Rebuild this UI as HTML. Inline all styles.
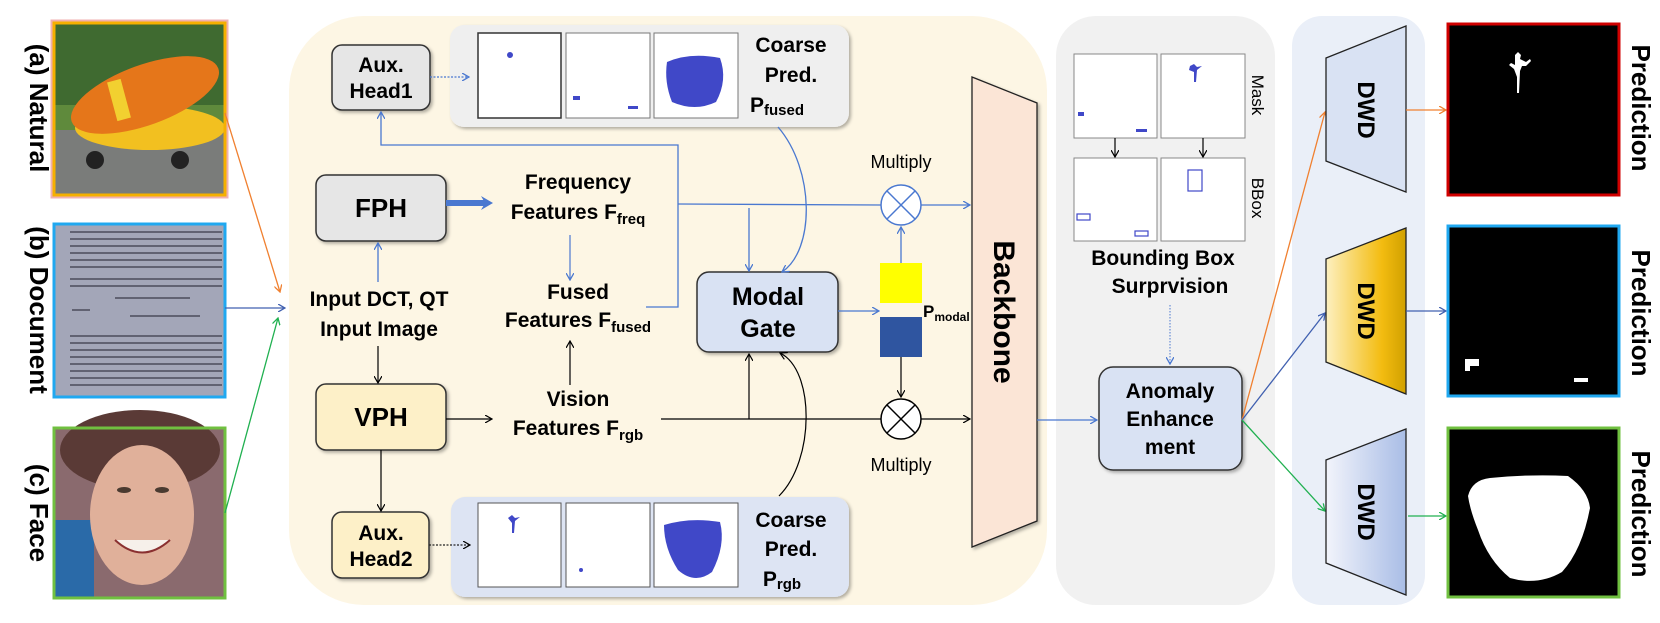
<!DOCTYPE html>
<html><head><meta charset="utf-8"><style>
html,body{margin:0;padding:0;background:#fff}
svg{display:block}
text{font-family:"Liberation Sans",Arial,sans-serif}
.b{font-weight:bold}
</style></head><body>
<svg width="1660" height="623" viewBox="0 0 1660 623" xmlns="http://www.w3.org/2000/svg">
<defs>
<marker id="ab" markerWidth="8" markerHeight="8" refX="7" refY="4" orient="auto" markerUnits="userSpaceOnUse"><path d="M0,0 L7,4 L0,8" fill="none" stroke="#4a78d0" stroke-width="1.3"/></marker>
<marker id="ak" markerWidth="8" markerHeight="8" refX="7" refY="4" orient="auto" markerUnits="userSpaceOnUse"><path d="M0,0 L7,4 L0,8" fill="none" stroke="#000" stroke-width="1.2"/></marker>
<marker id="ao" markerWidth="8" markerHeight="8" refX="7" refY="4" orient="auto" markerUnits="userSpaceOnUse"><path d="M0,0 L7,4 L0,8" fill="none" stroke="#f08030" stroke-width="1.3"/></marker>
<marker id="ag" markerWidth="8" markerHeight="8" refX="7" refY="4" orient="auto" markerUnits="userSpaceOnUse"><path d="M0,0 L7,4 L0,8" fill="none" stroke="#20b050" stroke-width="1.3"/></marker>
<marker id="an" markerWidth="8" markerHeight="8" refX="7" refY="4" orient="auto" markerUnits="userSpaceOnUse"><path d="M0,0 L7,4 L0,8" fill="none" stroke="#4060b0" stroke-width="1.3"/></marker>
<marker id="thick" markerWidth="14" markerHeight="16" refX="4" refY="8" orient="auto" markerUnits="userSpaceOnUse"><path d="M0,1 L12,8 L0,15 L4,8 Z" fill="#4a78d0"/></marker>
<linearGradient id="gy" x1="0" x2="1"><stop offset="0" stop-color="#fdf0c0"/><stop offset="0.7" stop-color="#f3bc10"/><stop offset="1" stop-color="#d0a000"/></linearGradient>
<linearGradient id="gb" x1="0" x2="1"><stop offset="0" stop-color="#f2f4fb"/><stop offset="1" stop-color="#a9bde6"/></linearGradient>
<filter id="sh" x="-10%" y="-10%" width="130%" height="130%"><feDropShadow dx="2" dy="2" stdDeviation="1.5" flood-color="#000" flood-opacity="0.3"/></filter>
</defs>

<!-- panels -->
<rect x="289" y="16" width="758" height="589" rx="75" fill="#fdf6e4"/>
<rect x="1056" y="16" width="219" height="589" rx="40" fill="#f1f1f1"/>
<rect x="1292" y="16" width="133" height="589" rx="30" fill="#eaeff8"/>

<!-- left labels -->
<text class="b" font-size="26" transform="translate(30,108) rotate(90)" text-anchor="middle">(a) Natural</text>
<text class="b" font-size="26" transform="translate(30,310) rotate(90)" text-anchor="middle">(b) Document</text>
<text class="b" font-size="26" transform="translate(30,513) rotate(90)" text-anchor="middle">(c) Face</text>

<!-- image a -->
<g>
<rect x="54" y="23" width="171" height="172" fill="#3f6a30"/>
<rect x="54" y="120" width="171" height="75" fill="#7a7c7a"/>
<rect x="54" y="105" width="171" height="25" fill="#5f8a3c"/>
<ellipse cx="150" cy="128" rx="75" ry="22" fill="#f2c020"/>
<ellipse cx="145" cy="95" rx="78" ry="30" transform="rotate(-20 145 95)" fill="#e5761a"/>
<rect x="112" y="80" width="14" height="40" fill="#f2d030" transform="rotate(-15 119 100)"/>
<circle cx="95" cy="160" r="9" fill="#222"/><circle cx="180" cy="160" r="9" fill="#222"/>
<rect x="54" y="23" width="171" height="172" fill="none" stroke="#f5b000" stroke-width="3"/>
<rect x="51.5" y="20.5" width="176" height="177" fill="none" stroke="#f0b0b0" stroke-width="2"/>
</g>
<!-- image b -->
<g>
<rect x="54" y="224" width="171" height="173" fill="#a3a6b8"/>
<g stroke="#3a3a48" stroke-width="1.3">
<line x1="70" y1="232" x2="222" y2="232"/><line x1="70" y1="239" x2="222" y2="239"/><line x1="70" y1="246" x2="222" y2="246"/><line x1="70" y1="253" x2="222" y2="253"/><line x1="70" y1="260" x2="222" y2="260"/><line x1="70" y1="267" x2="222" y2="267"/>
<line x1="70" y1="279" x2="222" y2="279"/><line x1="70" y1="286" x2="222" y2="286"/>
<line x1="115" y1="298" x2="190" y2="298"/><line x1="72" y1="310" x2="90" y2="310"/><line x1="130" y1="316" x2="200" y2="316"/>
<line x1="70" y1="336" x2="222" y2="336"/><line x1="70" y1="343" x2="222" y2="343"/><line x1="70" y1="350" x2="222" y2="350"/><line x1="70" y1="357" x2="222" y2="357"/><line x1="70" y1="364" x2="222" y2="364"/><line x1="70" y1="371" x2="222" y2="371"/><line x1="70" y1="378" x2="222" y2="378"/><line x1="70" y1="385" x2="222" y2="385"/>
</g>
<rect x="54" y="224" width="171" height="173" fill="none" stroke="#20a8f0" stroke-width="3"/>
</g>
<!-- image c -->
<g>
<rect x="54" y="428" width="171" height="170" fill="#8a6a6e"/>
<rect x="54" y="520" width="40" height="78" fill="#2a6aa8"/>
<ellipse cx="140" cy="450" rx="80" ry="40" fill="#5a3a36"/>
<ellipse cx="142" cy="515" rx="52" ry="70" fill="#e0b09a"/>
<path d="M115,540 Q142,565 170,540" fill="#f6f0ea" stroke="#8a3030" stroke-width="2"/>
<ellipse cx="124" cy="490" rx="7" ry="3" fill="#4a3a30"/><ellipse cx="162" cy="490" rx="7" ry="3" fill="#4a3a30"/>
<rect x="54" y="428" width="171" height="170" fill="none" stroke="#70c040" stroke-width="3"/>
</g>
<!-- input arrows -->
<line x1="225" y1="113" x2="280" y2="292" stroke="#f08030" stroke-width="1.3" marker-end="url(#ao)"/>
<line x1="225" y1="308" x2="285" y2="308" stroke="#4060b0" stroke-width="1.3" marker-end="url(#an)"/>
<line x1="225" y1="513" x2="278" y2="318" stroke="#20b050" stroke-width="1.3" marker-end="url(#ag)"/>

<!-- coarse panels -->
<rect x="450" y="25" width="399" height="102" rx="14" fill="#efefef" filter="url(#sh)"/>
<rect x="478" y="33" width="83" height="85" fill="#fff" stroke="#333" stroke-width="1.5"/>
<rect x="566" y="33" width="84" height="85" fill="#fff" stroke="#777"/>
<rect x="654" y="33" width="84" height="85" fill="#fff" stroke="#777"/>
<circle cx="510" cy="55" r="3" fill="#4048c8"/>
<rect x="573" y="96" width="7" height="4" fill="#4048c8"/><rect x="628" y="106" width="10" height="3" fill="#4048c8"/>
<path d="M667,62 Q690,52 720,58 Q728,80 716,102 Q695,112 672,102 Q664,82 667,62Z" fill="#4048c8"/>
<text class="b" font-size="21" x="791" y="52" text-anchor="middle">Coarse</text>
<text class="b" font-size="21" x="791" y="82" text-anchor="middle">Pred.</text>
<text class="b" font-size="21" x="777" y="112" text-anchor="middle">P<tspan font-size="15" dy="3">fused</tspan></text>

<rect x="451" y="497" width="398" height="100" rx="14" fill="#dde4f3" filter="url(#sh)"/>
<rect x="478" y="503" width="83" height="84" fill="#fff" stroke="#555"/>
<rect x="566" y="503" width="84" height="84" fill="#fff" stroke="#555"/>
<rect x="654" y="503" width="84" height="84" fill="#fff" stroke="#555"/>
<path d="M508,518 l4,-3 l3,3 l5,-1 l-5,4 l-1,12 l-2,0 l0,-10 Z" fill="#4048c8"/>
<circle cx="581" cy="570" r="2" fill="#4048c8"/>
<path d="M664,525 Q690,517 720,522 Q726,545 712,572 Q695,585 678,570 Q664,548 664,525Z" fill="#4048c8"/>
<text class="b" font-size="21" x="791" y="527" text-anchor="middle">Coarse</text>
<text class="b" font-size="21" x="791" y="556" text-anchor="middle">Pred.</text>
<text class="b" font-size="21" x="782" y="586" text-anchor="middle">P<tspan font-size="15" dy="3">rgb</tspan></text>

<!-- boxes -->
<rect x="332" y="45" width="98" height="65" rx="10" fill="#e6e6e6" stroke="#333" stroke-width="1.5" filter="url(#sh)"/>
<text class="b" font-size="21" x="381" y="72" text-anchor="middle">Aux.</text>
<text class="b" font-size="21" x="381" y="98" text-anchor="middle">Head1</text>
<rect x="316" y="175" width="130" height="66" rx="10" fill="#e6e6e6" stroke="#333" stroke-width="1.5" filter="url(#sh)"/>
<text class="b" font-size="26" x="381" y="217" text-anchor="middle">FPH</text>
<rect x="316" y="384" width="130" height="66" rx="10" fill="#fdf0c8" stroke="#333" stroke-width="1.5" filter="url(#sh)"/>
<text class="b" font-size="26" x="381" y="426" text-anchor="middle">VPH</text>
<rect x="332" y="512" width="97" height="66" rx="10" fill="#fdf0c8" stroke="#333" stroke-width="1.5" filter="url(#sh)"/>
<text class="b" font-size="21" x="381" y="540" text-anchor="middle">Aux.</text>
<text class="b" font-size="21" x="381" y="566" text-anchor="middle">Head2</text>
<rect x="697" y="272" width="141" height="80" rx="12" fill="#d9e2f3" stroke="#333" stroke-width="1.5" filter="url(#sh)"/>
<text class="b" font-size="25" x="768" y="305" text-anchor="middle">Modal</text>
<text class="b" font-size="25" x="768" y="337" text-anchor="middle">Gate</text>

<!-- feature labels -->
<text class="b" font-size="21" x="578" y="189" text-anchor="middle">Frequency</text>
<text class="b" font-size="21" x="578" y="219" text-anchor="middle">Features F<tspan font-size="15" dy="5">freq</tspan></text>
<text class="b" font-size="21" x="578" y="299" text-anchor="middle">Fused</text>
<text class="b" font-size="21" x="578" y="327" text-anchor="middle">Features F<tspan font-size="15" dy="5">fused</tspan></text>
<text class="b" font-size="21" x="578" y="406" text-anchor="middle">Vision</text>
<text class="b" font-size="21" x="578" y="435" text-anchor="middle">Features F<tspan font-size="15" dy="5">rgb</tspan></text>
<text class="b" font-size="21" x="379" y="306" text-anchor="middle">Input DCT, QT</text>
<text class="b" font-size="21" x="379" y="336" text-anchor="middle">Input Image</text>

<!-- connectors -->
<line x1="430" y1="77" x2="469" y2="77" stroke="#4a78d0" stroke-width="1.2" stroke-dasharray="2,1.5" marker-end="url(#ab)"/>
<line x1="429" y1="545" x2="470" y2="545" stroke="#222" stroke-width="1.2" stroke-dasharray="2,1.5" marker-end="url(#ak)"/>
<line x1="378" y1="282" x2="378" y2="243" stroke="#4a78d0" stroke-width="1.3" marker-end="url(#ab)"/>
<line x1="446" y1="203" x2="485" y2="203" stroke="#4a78d0" stroke-width="6" marker-end="url(#thick)"/>
<line x1="378" y1="346" x2="378" y2="383" stroke="#000" stroke-width="1.2" marker-end="url(#ak)"/>
<line x1="381" y1="450" x2="381" y2="511" stroke="#000" stroke-width="1.2" marker-end="url(#ak)"/>
<line x1="446" y1="419" x2="492" y2="419" stroke="#000" stroke-width="1.2" marker-end="url(#ak)"/>
<line x1="570" y1="385" x2="570" y2="341" stroke="#000" stroke-width="1.2" marker-end="url(#ak)"/>
<line x1="570" y1="235" x2="570" y2="280" stroke="#4a78d0" stroke-width="1.2" marker-end="url(#ab)"/>
<polyline points="646,307 678,307 678,145 381,145 381,112" fill="none" stroke="#4a78d0" stroke-width="1.3" marker-end="url(#ab)"/>
<line x1="678" y1="204" x2="881" y2="205" stroke="#4a78d0" stroke-width="1.3"/>
<line x1="921" y1="205" x2="970" y2="205" stroke="#4a78d0" stroke-width="1.3" marker-end="url(#ab)"/>
<line x1="749" y1="208" x2="749" y2="271" stroke="#4a78d0" stroke-width="1.3" marker-end="url(#ab)"/>
<path d="M778,127 C815,170 815,250 782,272" fill="none" stroke="#4a78d0" stroke-width="1.3" marker-end="url(#ab)"/>
<line x1="838" y1="311" x2="879" y2="311" stroke="#4a78d0" stroke-width="1.3" marker-end="url(#ab)"/>
<line x1="901" y1="263" x2="901" y2="227" stroke="#4a78d0" stroke-width="1.3" marker-end="url(#ab)"/>
<line x1="661" y1="419" x2="881" y2="419" stroke="#000" stroke-width="1.2"/>
<line x1="921" y1="419" x2="970" y2="419" stroke="#000" stroke-width="1.2" marker-end="url(#ak)"/>
<line x1="749" y1="419" x2="749" y2="354" stroke="#000" stroke-width="1.2" marker-end="url(#ak)"/>
<path d="M779,496 C815,460 815,370 780,353" fill="none" stroke="#000" stroke-width="1.2" marker-end="url(#ak)"/>
<line x1="901" y1="357" x2="901" y2="397" stroke="#000" stroke-width="1.2" marker-end="url(#ak)"/>

<!-- multiply -->
<circle cx="901" cy="205" r="20" fill="#fff" stroke="#4a78d0" stroke-width="1.5"/>
<path d="M887,191 L915,219 M915,191 L887,219" stroke="#4a78d0" stroke-width="1.5"/>
<text font-size="18" x="901" y="168" text-anchor="middle">Multiply</text>
<circle cx="901" cy="419" r="20" fill="#fff" stroke="#000" stroke-width="1.5"/>
<path d="M887,405 L915,433 M915,405 L887,433" stroke="#000" stroke-width="1.5"/>
<text font-size="18" x="901" y="471" text-anchor="middle">Multiply</text>
<rect x="880" y="263" width="42" height="40" fill="#ffff00"/>
<rect x="880" y="317" width="42" height="40" fill="#2f55a0"/>
<text class="b" font-size="17" x="923" y="317">P<tspan font-size="12" dy="4">modal</tspan></text>

<!-- backbone -->
<polygon points="972,77 1037,103 1037,521 972,547" fill="#fbe5d6" stroke="#222" stroke-width="1.3" filter="url(#sh)"/>
<text class="b" font-size="30" transform="translate(994,312) rotate(90)" text-anchor="middle">Backbone</text>
<line x1="1037" y1="420" x2="1097" y2="420" stroke="#4a78d0" stroke-width="1.3" marker-end="url(#ab)"/>

<!-- bbox supervision -->
<rect x="1074" y="54" width="83" height="84" fill="#fff" stroke="#888"/>
<rect x="1161" y="54" width="84" height="84" fill="#fff" stroke="#888"/>
<rect x="1074" y="158" width="83" height="83" fill="#fff" stroke="#888"/>
<rect x="1161" y="158" width="84" height="83" fill="#fff" stroke="#888"/>
<rect x="1078" y="112" width="6" height="4" fill="#4048c8"/><rect x="1136" y="129" width="11" height="3" fill="#4048c8"/>
<path d="M1190,66 l4,-2 l3,3 l5,-1 l-5,4 l-1,12 l-2,0 l0,-10 l-5,-2 Z" fill="#4048c8"/>
<rect x="1077" y="214" width="13" height="6" fill="none" stroke="#4048c8" stroke-width="1.2"/>
<rect x="1135" y="231" width="13" height="5" fill="none" stroke="#4048c8" stroke-width="1.2"/>
<rect x="1188" y="170" width="14" height="21" fill="none" stroke="#4048c8" stroke-width="1.2"/>
<line x1="1115" y1="138" x2="1115" y2="157" stroke="#000" stroke-width="1.2" marker-end="url(#ak)"/>
<line x1="1203" y1="138" x2="1203" y2="157" stroke="#000" stroke-width="1.2" marker-end="url(#ak)"/>
<text font-size="17" transform="translate(1252,95) rotate(90)" text-anchor="middle">Mask</text>
<text font-size="17" transform="translate(1252,198) rotate(90)" text-anchor="middle">BBox</text>
<text class="b" font-size="21" x="1163" y="265" text-anchor="middle">Bounding Box</text>
<text class="b" font-size="21" x="1170" y="293" text-anchor="middle">Surprvision</text>
<line x1="1170" y1="305" x2="1170" y2="364" stroke="#4a78d0" stroke-width="1" stroke-dasharray="1.5,1.5" marker-end="url(#ab)"/>
<rect x="1099" y="367" width="143" height="103" rx="14" fill="#d9e2f3" stroke="#333" stroke-width="1.5" filter="url(#sh)"/>
<text class="b" font-size="21" x="1170" y="398" text-anchor="middle">Anomaly</text>
<text class="b" font-size="21" x="1170" y="426" text-anchor="middle">Enhance</text>
<text class="b" font-size="21" x="1170" y="454" text-anchor="middle">ment</text>

<!-- outputs -->
<line x1="1242" y1="420" x2="1325" y2="112" stroke="#f08030" stroke-width="1.3" marker-end="url(#ao)"/>
<line x1="1242" y1="420" x2="1325" y2="313" stroke="#4060b0" stroke-width="1.3" marker-end="url(#an)"/>
<line x1="1242" y1="420" x2="1325" y2="511" stroke="#20b050" stroke-width="1.3" marker-end="url(#ag)"/>
<polygon points="1326,58 1406,26 1406,192 1326,161" fill="#d9e2f3" stroke="#222" stroke-width="1.3"/>
<polygon points="1326,259 1406,228 1406,394 1326,362" fill="url(#gy)" stroke="#222" stroke-width="1.3"/>
<polygon points="1326,460 1406,429 1406,595 1326,563" fill="url(#gb)" stroke="#222" stroke-width="1.3"/>
<text class="b" font-size="24" transform="translate(1358,110) rotate(90)" text-anchor="middle">DWD</text>
<text class="b" font-size="24" transform="translate(1358,311) rotate(90)" text-anchor="middle">DWD</text>
<text class="b" font-size="24" transform="translate(1358,512) rotate(90)" text-anchor="middle">DWD</text>
<line x1="1406" y1="110" x2="1446" y2="110" stroke="#f08030" stroke-width="1.3" marker-end="url(#ao)"/>
<line x1="1406" y1="311" x2="1446" y2="311" stroke="#4060b0" stroke-width="1.3" marker-end="url(#an)"/>
<line x1="1408" y1="516" x2="1446" y2="516" stroke="#20b050" stroke-width="1.3" marker-end="url(#ag)"/>

<rect x="1448" y="24" width="171" height="171" fill="#000" stroke="#d00000" stroke-width="3"/>
<path d="M1515,55 l3,-3 l3,3 l-1,4 l6,3 l4,-3 l1,2 l-5,5 l-4,0 l-2,5 l-1,22 l-2,0 l0,-16 l-3,-8 l-5,-4 l2,-2 l4,2 Z" fill="#fff"/>
<rect x="1448" y="226" width="171" height="170" fill="#000" stroke="#20a8f0" stroke-width="3"/>
<rect x="1465" y="359" width="14" height="7" fill="#fff"/><rect x="1465" y="359" width="5" height="12" fill="#fff"/><rect x="1574" y="378" width="14" height="4" fill="#fff"/>
<rect x="1448" y="428" width="171" height="169" fill="#000" stroke="#70c040" stroke-width="3"/>
<path d="M1468,496 Q1472,480 1490,478 Q1530,474 1568,476 Q1588,490 1590,508 Q1582,550 1562,572 Q1538,586 1510,578 Q1488,560 1478,530 Q1470,510 1468,496Z" fill="#fff"/>
<text class="b" font-size="26" transform="translate(1632,108) rotate(90)" text-anchor="middle">Prediction</text>
<text class="b" font-size="26" transform="translate(1632,313) rotate(90)" text-anchor="middle">Prediction</text>
<text class="b" font-size="26" transform="translate(1632,514) rotate(90)" text-anchor="middle">Prediction</text>
</svg>
</body></html>
